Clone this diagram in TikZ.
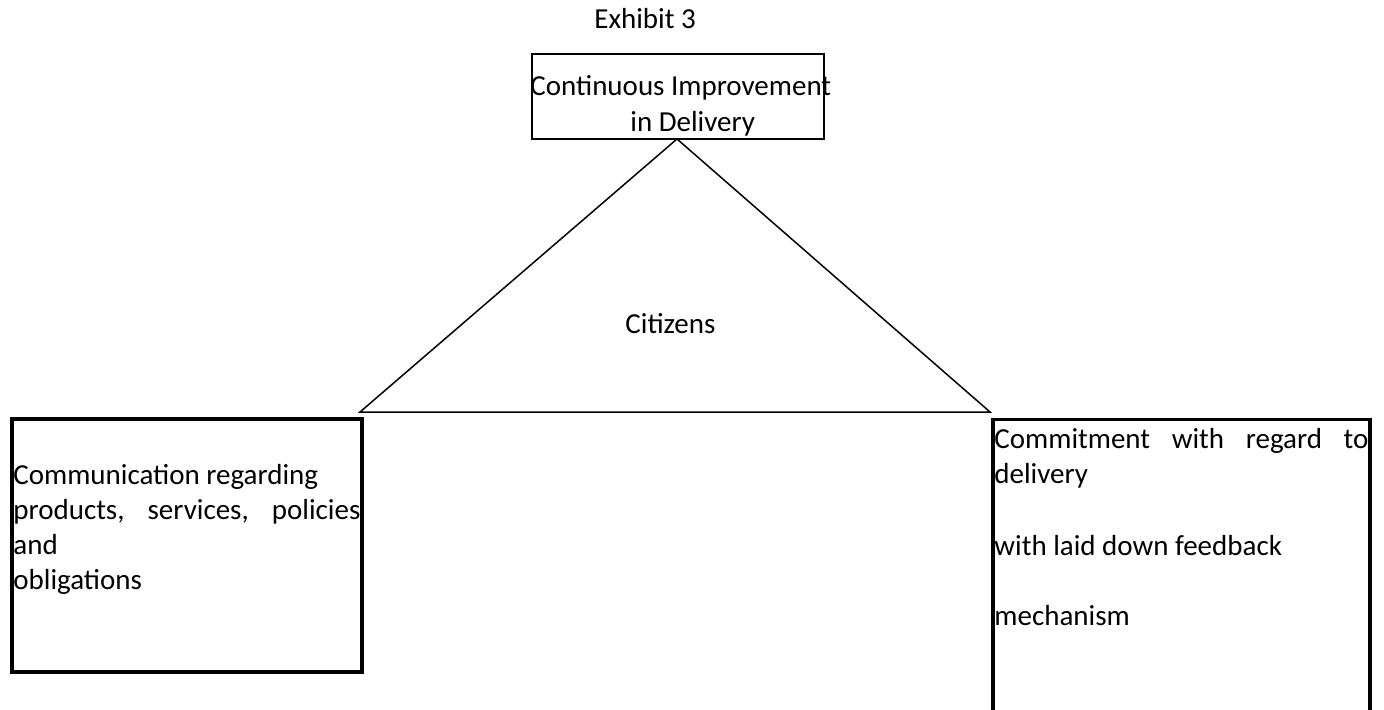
\documentclass[tikz,border=0pt]{standalone}
\usepackage{fontspec}
\setmainfont{Carlito}
\begin{document}
\begin{tikzpicture}[x=0.5pt,y=-0.5pt,
  txt/.style={anchor=base west, inner sep=0pt, font=\fontsize{14.5pt}{17.75pt}\selectfont},
  thinbox/.style={draw, line width=1pt, inner sep=0pt},
  thickbox/.style={draw, line width=1.8pt, inner sep=0pt},
  edge/.style={line width=0.75pt, line join=miter}]
\useasboundingbox (0,0) rectangle (1384,710);
% title
\node[txt] (title) at (594,29) {Exhibit 3};
% top box
\node[thinbox, minimum width=146pt, minimum height=42.5pt] (topbox) at (678,96.5) {};
\node[txt] (t1) at (530,96) {Continuous Improvement};
\node[txt] (t2) at (630,132) {in Delivery};
% triangle
\coordinate (apex) at (677,139);
\coordinate (bl) at (360,412);
\coordinate (br) at (990,412);
\draw[edge] (apex) -- (bl) -- (br) -- cycle;
\node[txt] (cit) at (625,334) {Citizens};
% left box
\node[thickbox, minimum width=175pt, minimum height=126.5pt] (lbox) at (187,545.75) {};
\node[txt] (l1) at (13,484) {Communication regarding};
\node[txt] (l2) at (13,519) {\hbox to 173.5pt{products,\hfill services,\hfill policies}};
\node[txt] (l3) at (13,554) {and};
\node[txt] (l4) at (13,589) {obligations};
% right box (open at the bottom)
\coordinate (rb1) at (993,710);
\coordinate (rb2) at (993,419.5);
\coordinate (rb3) at (1370,419.5);
\coordinate (rb4) at (1370,710);
\draw[line width=1.8pt, line join=miter] (rb1) -- (rb2) -- (rb3) -- (rb4);
\node[txt] (r1) at (994,448) {\hbox to 187pt{Commitment\hfill with\hfill regard\hfill to}};
\node[txt] (r2) at (994,483) {delivery};
\node[txt] (r3) at (994,555) {with laid down feedback};
\node[txt] (r4) at (994,625) {mechanism};
\end{tikzpicture}
\end{document}
